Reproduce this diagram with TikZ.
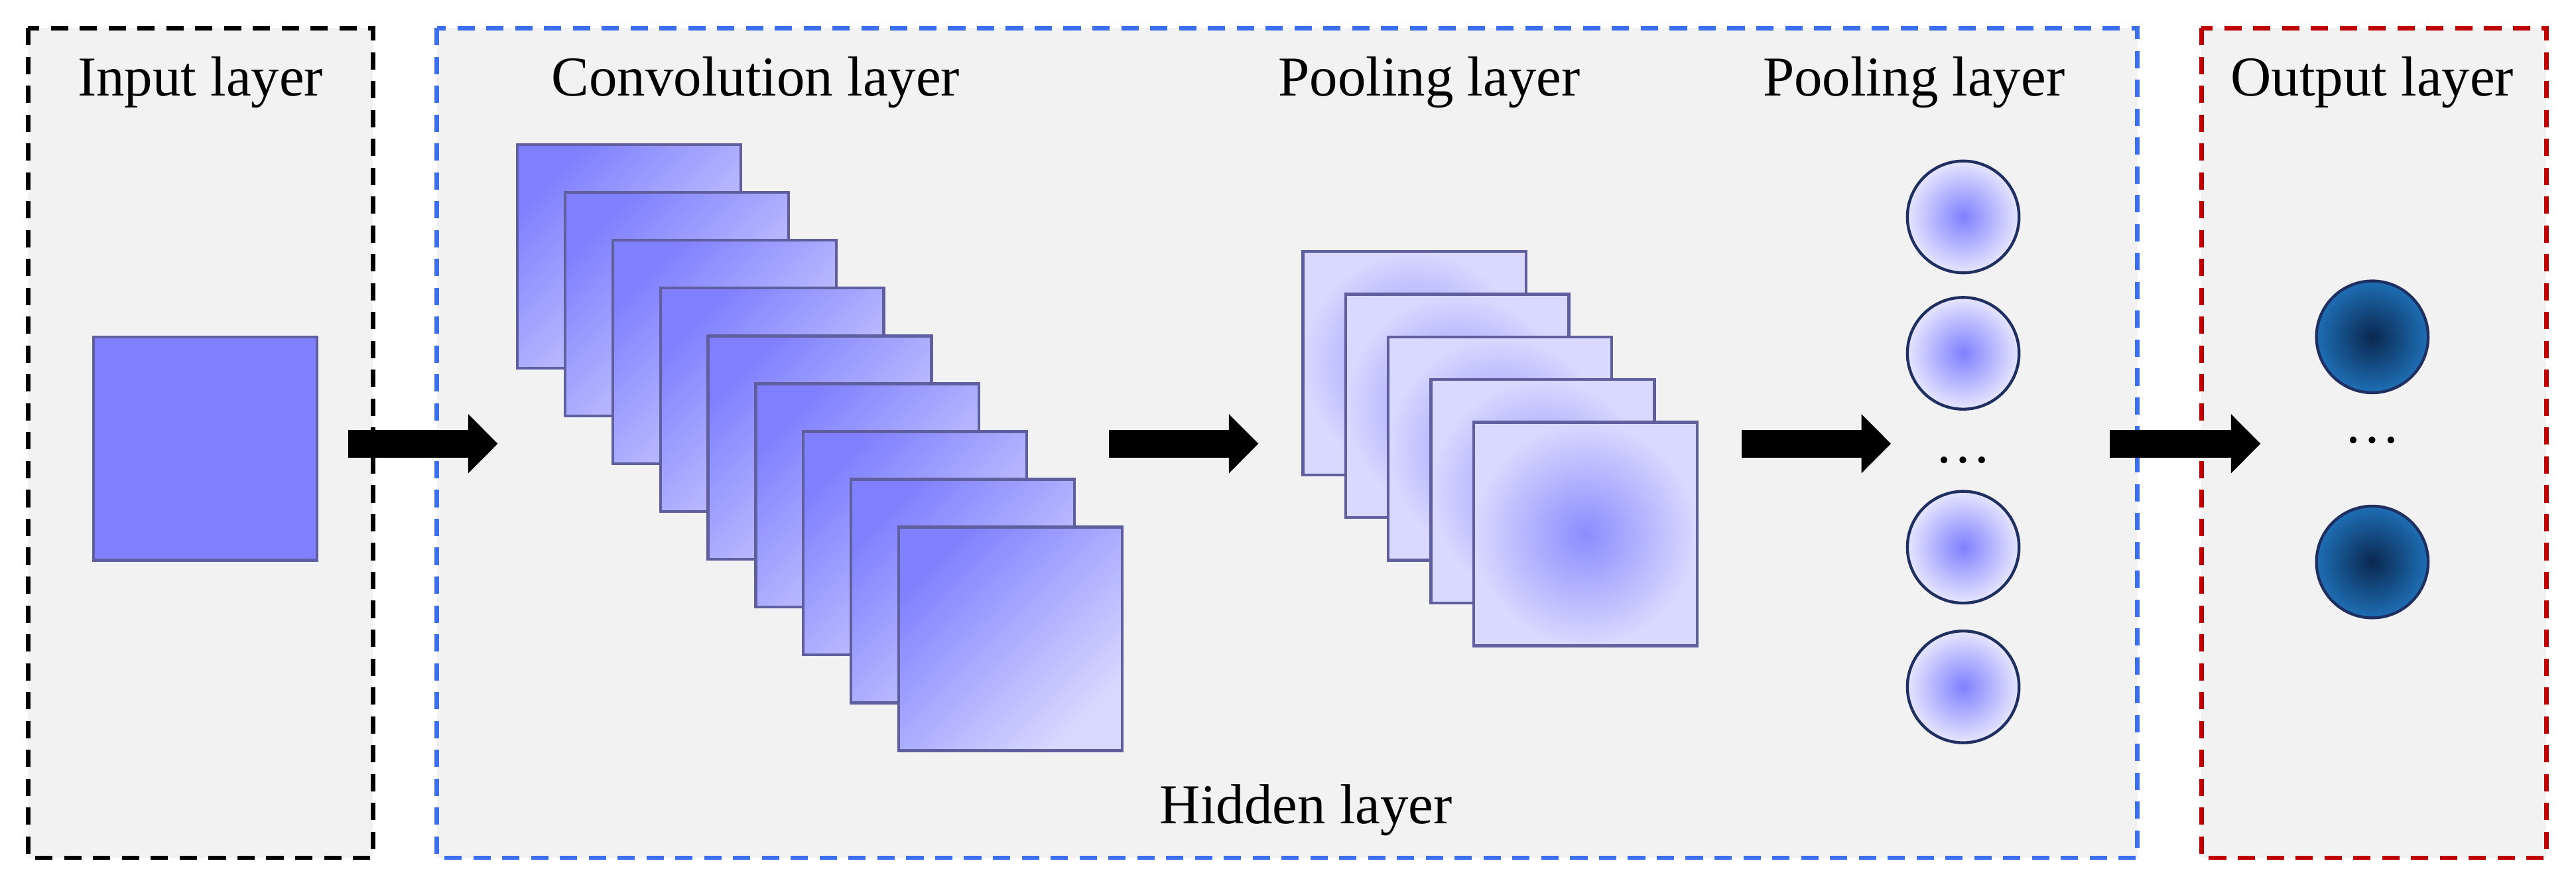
\documentclass[tikz,border=0pt]{standalone}
\usepackage{fontspec}
\setmainfont{Liberation Serif}
\usetikzlibrary{shapes,arrows.meta,positioning,calc}
\definecolor{panel}{HTML}{F2F2F2}
\definecolor{hidblue}{HTML}{3B6FF0}
\definecolor{outred}{HTML}{C00000}
\definecolor{edge}{HTML}{5F5F9F}
\definecolor{navy}{HTML}{1F2F5F}
\begin{document}
\begin{tikzpicture}[x=0.02cm, y=-0.02cm, font=\fontsize{19.5}{23}\selectfont]
\tikzset{
box/.style      = {draw, dash pattern=on 6pt off 4pt, line width=1.6pt, fill=panel},
fmap/.style     = {draw=edge, line width=1pt, minimum size=2.72cm, inner sep=0pt},
conv/.style     = {fmap, left color=blue!50, right color=blue!15, shading angle=45},
pool/.style     = {fmap, inner color=blue!45, outer color=blue!15},
unit/.style     = {circle, draw=navy, line width=1pt, minimum size=1.36cm, inner sep=0pt, inner color=blue!50, outer color=blue!10},
outunit/.style  = {circle, draw=navy, line width=1pt, minimum size=1.36cm, inner sep=0pt, inner color={rgb,255:red,10;green,40;blue,80}, outer color={rgb,255:red,30;green,110;blue,180}},
flow/.style     = {line width=0.34cm, -{Triangle[length=0.36cm, width=0.7cm]}},
coord/.style    = {coordinate},
}
    \useasboundingbox (0,0) rectangle (1568,536);
    % Layer boxes
    \draw [box, draw=black]   (17,17) rectangle (227,522);
    \draw [box, draw=hidblue] (266,17) rectangle (1301,522);
    \draw [box, draw=outred]  (1340,17) rectangle (1550,522);
    \node (l_in)   at (122,50)  {Input layer};
    \node (l_conv) at (460,50)  {Convolution layer};
    \node (l_pool) at (870,50)  {Pooling layer};
    \node (l_fc)   at (1165,50) {Pooling layer};
    \node (l_out)  at (1444,50) {Output layer};
    \node (l_hid)  at (795,493) {Hidden layer};

    % Input
    \node [fmap, fill={rgb,255:red,128;green,128;blue,255}] (input) at (125,273) {};

    % Convolution maps
    \foreach \i in {0,...,8}
        \node [conv] (conv\i) at ({383+29*\i},{156+29.1*\i}) {};

    % Pooling maps
    \foreach \i in {0,...,4}
        \node [pool] (pool\i) at ({861+26*\i},{221+26*\i}) {};

    % Units
    \foreach \y/\n in {132/a, 215/b, 333/c, 418/d}
        \node [unit] (u_\n) at (1195,\y) {};
    \node (u_dots) at (1195,280) {\dots};
    \node [outunit] (o_a) at (1444,205) {};
    \node [outunit] (o_b) at (1444,342) {};
    \node (o_dots) at (1444,268) {\dots};

    % Arrows
    \node [coord] (a1s) at (212,270) {};  \node [coord] (a1e) at (303,270) {};
    \node [coord] (a2s) at (675,270) {};  \node [coord] (a2e) at (766,270) {};
    \node [coord] (a3s) at (1060,270) {}; \node [coord] (a3e) at (1151,270) {};
    \node [coord] (a4s) at (1284,270) {}; \node [coord] (a4e) at (1376,270) {};
    \draw [flow] (a1s) -- (a1e);
    \draw [flow] (a2s) -- (a2e);
    \draw [flow] (a3s) -- (a3e);
    \draw [flow] (a4s) -- (a4e);
\end{tikzpicture}
\end{document}
